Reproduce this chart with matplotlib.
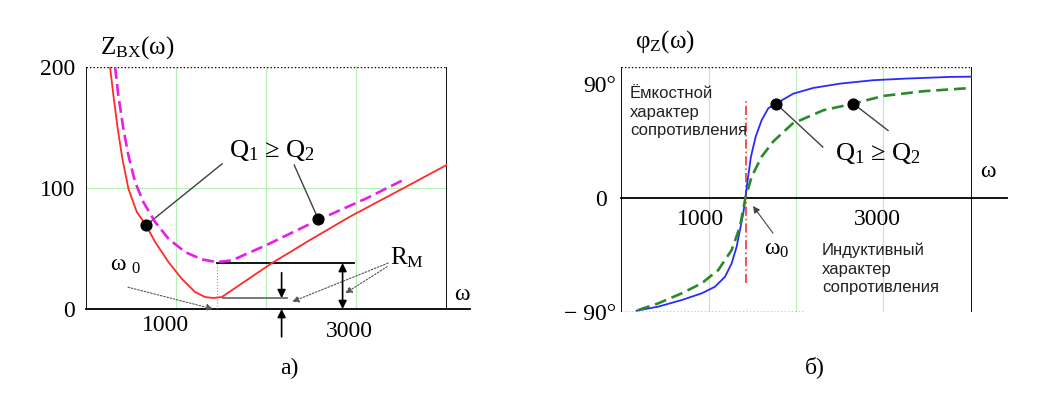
import matplotlib.pyplot as plt
from matplotlib.transforms import ScaledTranslation

plt.rcParams["font.family"] = ["Liberation Serif", "DejaVu Serif"]
plt.rcParams["mathtext.fontset"] = "custom"
plt.rcParams["mathtext.rm"] = "Liberation Serif"
plt.rcParams["mathtext.it"] = "Liberation Serif:italic"

# --- a) input impedance, two quality factors
w_z1 = [267, 304, 352, 404, 471, 564, 667, 768, 916, 1064, 1212, 1324,
        1416, 1509, 2063, 2489, 2933, 3489, 4008]
z1 = [200, 176.6, 149, 124.2, 99.4, 80.2, 69.2, 55.4, 38.8, 25, 14, 9.9,
      9.1, 9.9, 37.8, 57, 76.3, 98.3, 119]
w_z2 = [323, 359, 415, 471, 545, 637, 768, 916, 1101, 1287, 1454, 1621,
        2007, 2581, 3119, 3563]
z2 = [200, 176.6, 149, 127, 105, 88.4, 71.9, 58.1, 47.1, 41, 38.8, 40.2,
      52.9, 73.6, 91.5, 108]
z_dots_w = [667, 2581]
z_dots = [69.2, 74.4]

# --- б) phase
w_phi1 = [174, 422, 690, 919, 1071, 1186, 1262, 1319, 1357, 1395, 1420,
          1445, 1483, 1537, 1606, 1682, 1770, 1968, 2197, 2503, 2884, 3267,
          3763, 4011]
phi1 = [-89.2, -86, -80.8, -75.5, -70.3, -62.4, -51.8, -38.7, -25.5, -12.3,
        0, 14, 32.4, 48.2, 61.3, 70.6, 74.2, 82.1, 86.6, 90, 92.7, 94,
        95.3, 95.5]
w_phi2 = [193, 422, 690, 919, 1109, 1262, 1357, 1420, 1491, 1606, 1740,
          1960, 2312, 2655, 2999, 3457, 4011]
phi2 = [-88.7, -83.4, -75.5, -67.6, -57.1, -41.3, -22.9, 0, 16.6, 32.4,
        44.5, 58.5, 69, 74.2, 80.3, 84, 86.6]
phi_dots_w = [1770, 2655]
phi_dots = [74.2, 74.2]

W0 = 1425
Z_MIN1 = 9.0
Z_MIN2 = 38.0

z_ticks = [0, 100, 200]
w_ticks = [1000, 3000]
phi_ticks = [-90, 0, 90]
phi_tick_labels = ["\u2212 90\u00b0", "0", "90\u00b0"]

W_MAX = 4010
PHI_TOP = 102.9
GRID = "#b8f0b8"
FS = 17

fig = plt.figure(figsize=(10.38, 3.93), dpi=100)
ax1 = fig.add_axes([0.0829, 0.2137, 0.3475, 0.6158])
ax2 = fig.add_axes([0.5987, 0.2069, 0.3374, 0.6219])

for ax in (ax1, ax2):
    for s in ax.spines.values():
        s.set_visible(False)
    ax.set_xlim(0, W_MAX)
    ax.tick_params(length=0, labelsize=FS)

dotted_arrow = dict(arrowstyle="-|>", color="#555555", lw=0.8,
                    ls=(0, (1.5, 1.5)), mutation_scale=10, shrinkA=0, shrinkB=0)
solid_arrow = dict(arrowstyle="-|>", color="black", lw=1.2,
                   mutation_scale=12, shrinkA=0, shrinkB=0)

# ---------------- a)
ax1.set_ylim(0, 200)
for g in [1000, 2000, 3000]:
    ax1.axvline(g, color=GRID, lw=0.9, zorder=0)
ax1.axhline(100, color=GRID, lw=0.9, zorder=0)

ax1.plot([0, 0], [0, 200], color="black", lw=1.3)
ax1.plot([W_MAX, W_MAX], [0, 200], color="black", lw=1.3)
ax1.plot([0, 4270], [0, 0], color="black", lw=1.3, clip_on=False)
ax1.plot([0, W_MAX], [200, 200], color="black", lw=1, ls=(0, (1, 1.5)))

ax1.plot(w_z1, z1, color="#ff2a2a", lw=1.3, zorder=3)
ax1.plot(w_z2, z2, color="#e81ee8", lw=1.9, dashes=(4.5, 2), zorder=3)
ax1.scatter(z_dots_w, z_dots, s=60, color="black", zorder=5)

ax1.set_yticks(z_ticks)
ax1.set_yticklabels([str(t) for t in z_ticks])
ax1.tick_params(axis="y", pad=8)
ax1.set_xticks(w_ticks)
ax1.set_xticklabels([str(t) for t in w_ticks])
ax1.tick_params(axis="x", pad=4)
for lab, (dx, dy) in zip(ax1.get_xticklabels(), [(-11, 0), (-7, -6)]):
    lab.set_transform(lab.get_transform()
                      + ScaledTranslation(dx / 100, dy / 100, fig.dpi_scale_trans))

ax1.text(156, 216, r"$\mathrm{Z_{BX}(ω)}$", fontsize=18, ha="left",
         va="center", clip_on=False)
ax1.text(4183, 12, "ω", fontsize=FS, ha="center", va="center")
ax1.text(2258, -49, "a)", fontsize=FS, ha="center", va="center")

# Q label and leaders
ax1.text(2064, 131, r"$\mathrm{Q_1\ ≥\ Q_2}$", fontsize=19, ha="center",
         va="center")
ax1.plot([1513, z_dots_w[0]], [120, z_dots[0]], color="#404040", lw=1)
ax1.plot([2314, z_dots_w[1]], [119, z_dots[1]], color="#404040", lw=1)

# resonance helper lines
ax1.plot([W0 + 27, W0 + 27], [0, Z_MIN2], color="#999999", lw=0.8, ls=":")
ax1.plot([W0 + 27, 2978], [Z_MIN2, Z_MIN2], color="black", lw=1.3)
ax1.plot([1522, 2233], [Z_MIN1, Z_MIN1], color="#707070", lw=1.3)
ax1.annotate("", xy=(2852, 0), xytext=(2852, Z_MIN2),
             arrowprops=dict(solid_arrow, arrowstyle="<|-|>"))
ax1.annotate("", xy=(2174, Z_MIN1), xytext=(2174, 30), arrowprops=solid_arrow)
ax1.annotate("", xy=(2174, 0), xytext=(2174, -23), arrowprops=solid_arrow,
             annotation_clip=False)

ax1.text(434, 36, r"$\mathrm{ω\ _0}$", fontsize=FS, ha="center", va="center")
ax1.annotate("", xy=(1413, 0), xytext=(467, 18), arrowprops=dotted_arrow)
ax1.text(3571, 42, r"$\mathrm{R_M}$", fontsize=18, ha="center", va="center")
ax1.annotate("", xy=(2291, 6), xytext=(3359, 38), arrowprops=dotted_arrow)
ax1.annotate("", xy=(2881, 13), xytext=(3348, 35), arrowprops=dotted_arrow)

# ---------------- б)
ax2.set_ylim(-90, PHI_TOP)
ax2.spines["bottom"].set_position(("data", 0))
for g in [1000, 2000, 3000]:
    ax2.axvline(g, color=GRID, lw=0.9, zorder=0)

ax2.plot([0, 0], [-90, PHI_TOP], color="black", lw=1.3)
ax2.plot([W_MAX, W_MAX], [-90, PHI_TOP], color="black", lw=1.3)
ax2.plot([0, 4415], [0, 0], color="black", lw=1.3, clip_on=False)
ax2.plot([0, W_MAX], [PHI_TOP, PHI_TOP], color="black", lw=1, ls=(0, (1, 1.5)))
ax2.plot([0, 2100], [-90, -90], color="black", lw=1, ls=(0, (1, 1.5)))

ax2.plot(w_phi1, phi1, color="#2a2aff", lw=1.3, zorder=3)
ax2.plot(w_phi2, phi2, color="#2a8a2a", lw=1.9, dashes=(4.5, 2.2), zorder=3)
ax2.plot([W0, W0], [-67.6, 77.3], color="#ee2222", lw=1.1,
         ls=(0, (6, 2, 1, 2)), zorder=2)
ax2.scatter(phi_dots_w, phi_dots, s=60, color="black", zorder=5)

ax2.set_yticks(phi_ticks)
ax2.set_yticklabels(phi_tick_labels)
ax2.tick_params(axis="y", pad=4)
zero_lab = ax2.get_yticklabels()[1]
zero_lab.set_transform(zero_lab.get_transform()
                       + ScaledTranslation(-9 / 100, 0, fig.dpi_scale_trans))
ax2.set_xticks(w_ticks)
ax2.set_xticklabels([str(t) for t in w_ticks])
ax2.tick_params(axis="x", pad=8)
for lab, dx in zip(ax2.get_xticklabels(), [-8, -6]):
    lab.set_transform(lab.get_transform()
                      + ScaledTranslation(dx / 100, 0, fig.dpi_scale_trans))

ax2.text(155, 123, r"$\mathrm{φ_Z(ω)}$", fontsize=18, ha="left", va="center",
         clip_on=False)
ax2.text(4198, 12, "ω", fontsize=FS, ha="center", va="bottom")
ax2.text(2217, -134, "б)", fontsize=FS, ha="center", va="center")

ax2.text(2938, 35, r"$\mathrm{Q_1\ ≥\ Q_2}$", fontsize=19, ha="center",
         va="center")
ax2.plot([phi_dots_w[0], 2305], [phi_dots[0], 40], color="#404040", lw=1)
ax2.plot([phi_dots_w[1], 3053], [phi_dots[1], 53], color="#404040", lw=1)

ax2.text(1781, -41, r"$\mathrm{ω_0}$", fontsize=FS, ha="center", va="center")
ax2.annotate("", xy=(1506, -6.6), xytext=(1735, -28),
             arrowprops=dict(solid_arrow, color="#444444", lw=0.8,
                             mutation_scale=10))

ax2.text(97, 67.6, "Ёмкостной\nхарактер\nсопротивления", fontsize=12,
         family="Liberation Sans", ha="left", va="center", linespacing=1.3,
         color="#222222")
ax2.text(2297, -56.4, "Индуктивный\nхарактер\nсопротивления", fontsize=12,
         family="Liberation Sans", ha="left", va="center", linespacing=1.3,
         color="#222222")

fig.savefig("out.png", dpi=100)
